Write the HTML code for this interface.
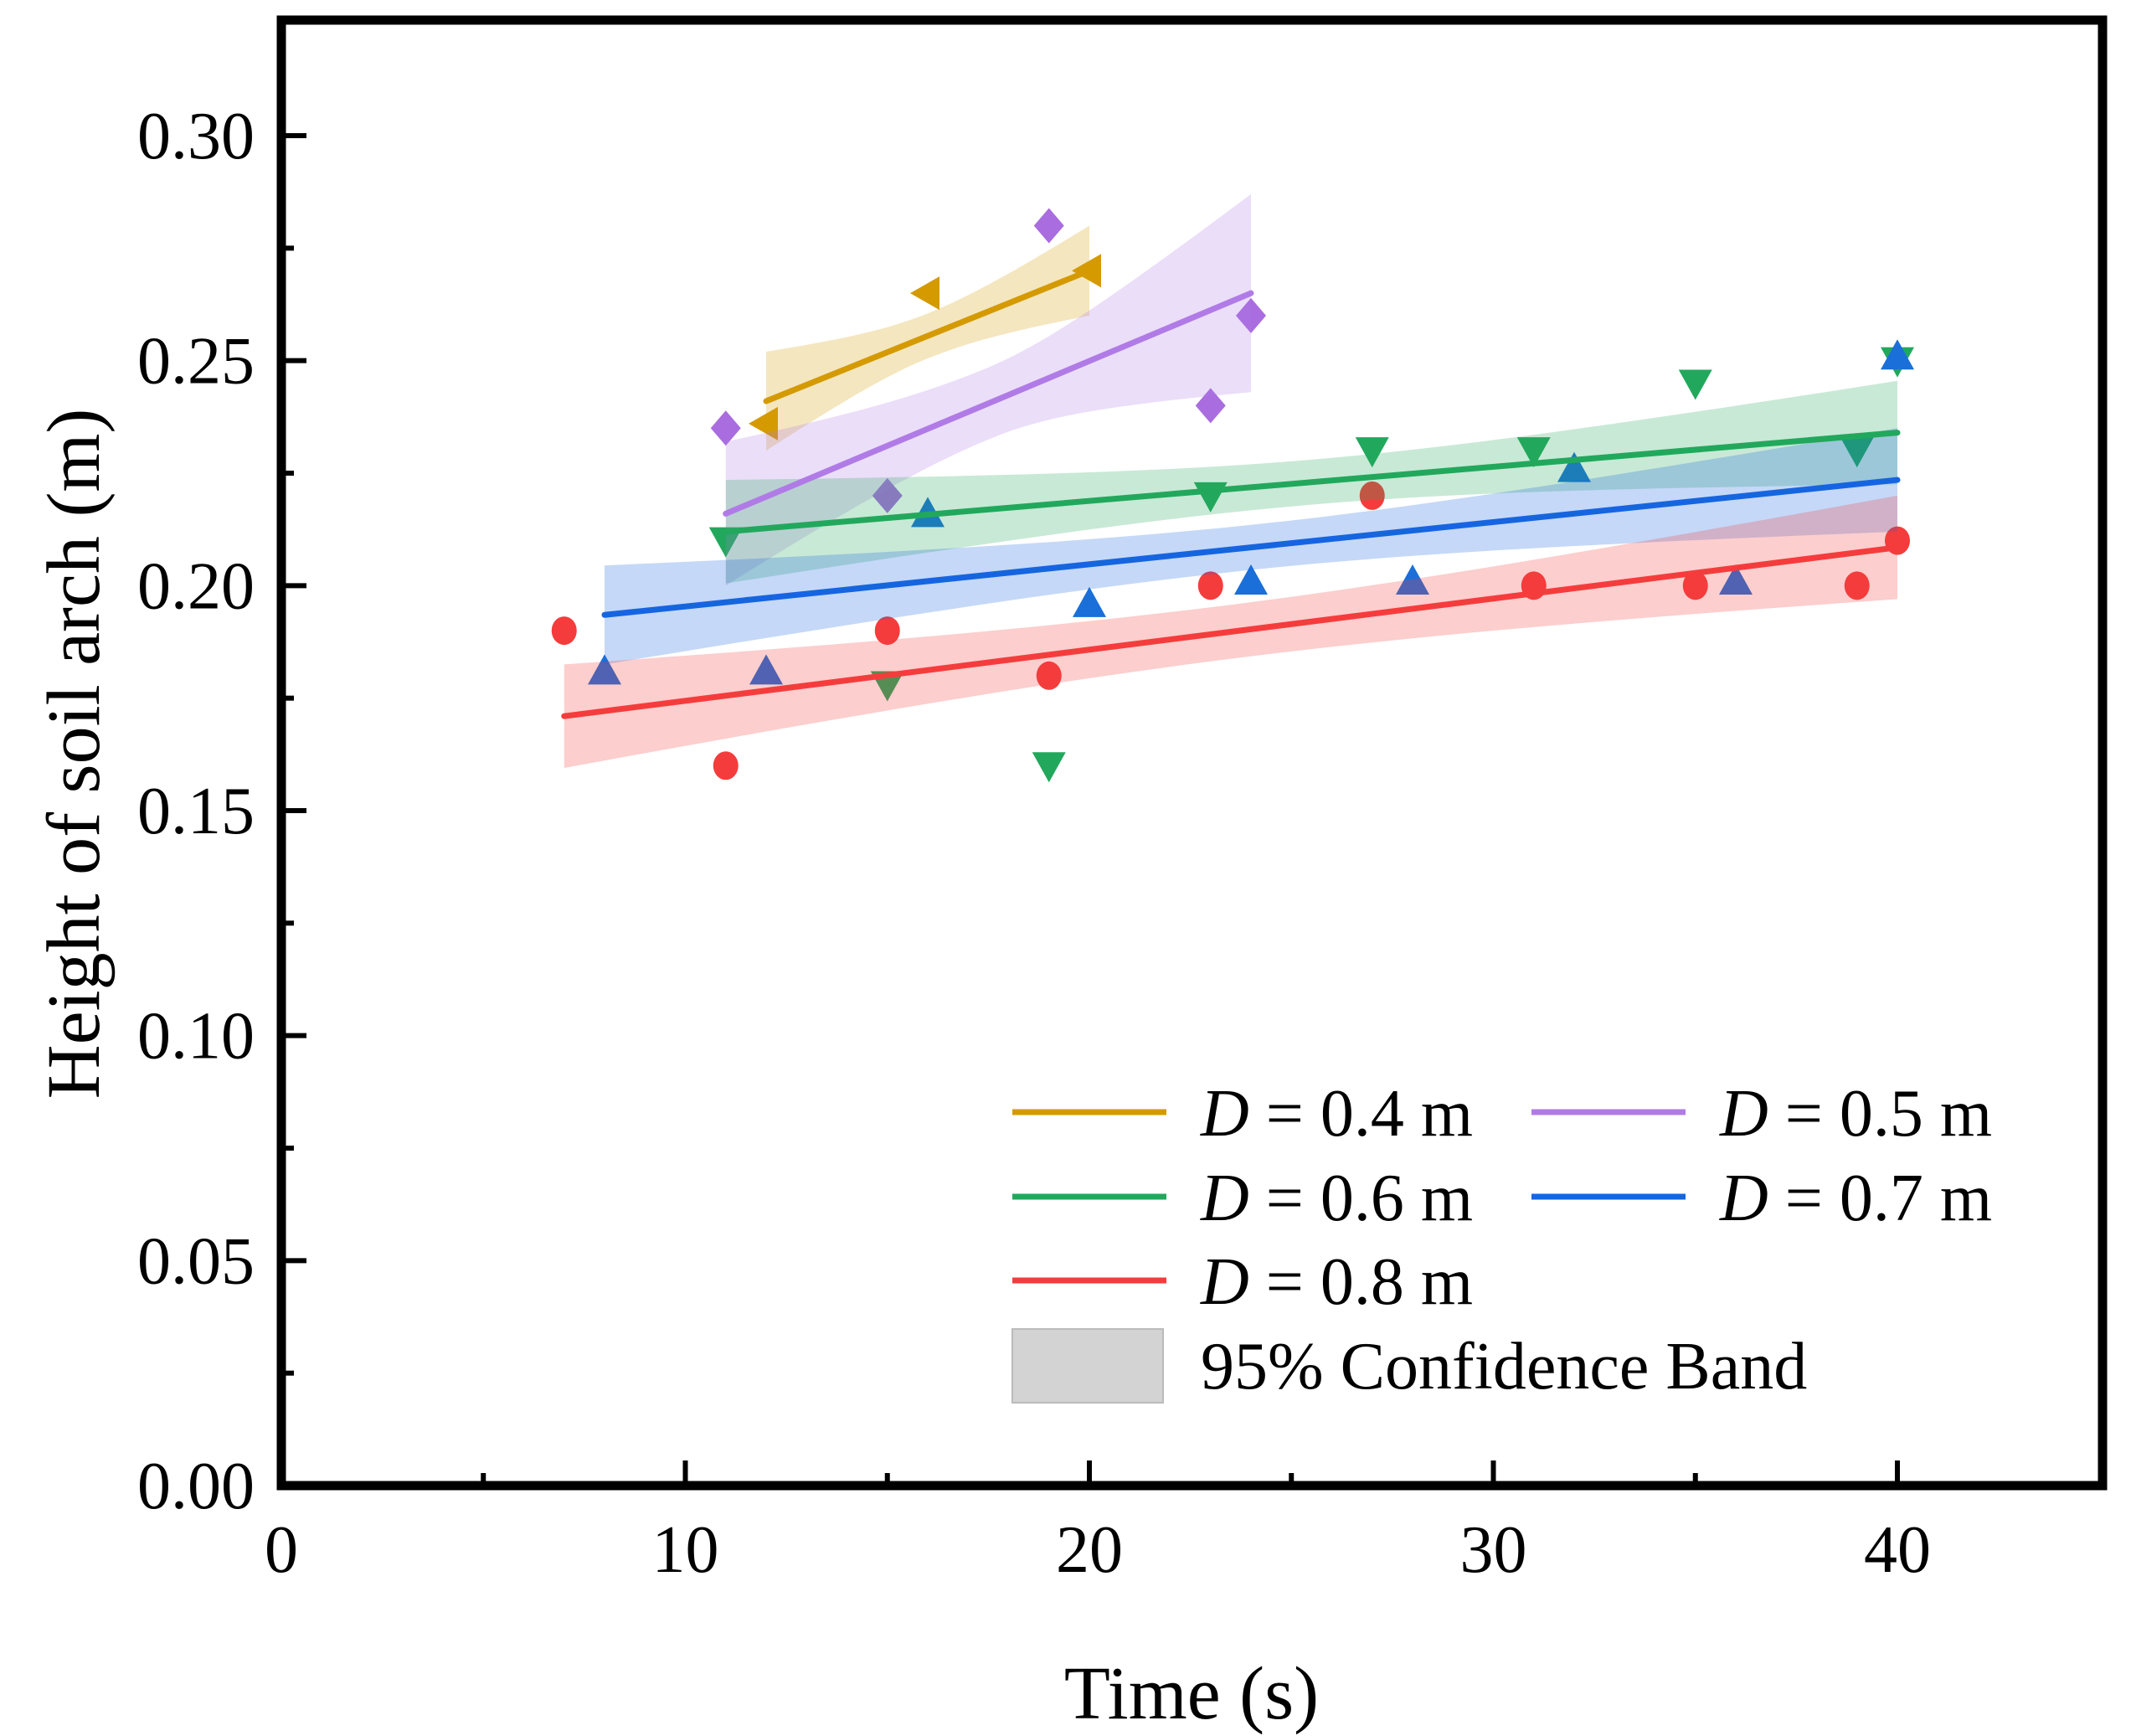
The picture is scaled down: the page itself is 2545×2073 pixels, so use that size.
<!DOCTYPE html>
<html><head><meta charset="utf-8"><style>
html,body{margin:0;padding:0;background:#fff;}
svg{display:block;font-family:"Liberation Serif","Times New Roman",serif;}
</style></head><body>
<svg id="chart" width="2545" height="2073" viewBox="0 0 2545 2073" xmlns="http://www.w3.org/2000/svg">
<rect x="0" y="0" width="2545" height="2073" fill="#fff"/>
<g id="marks"></g>
<g id="axes"></g>
<g id="legend"></g>
</svg>
<script>
const seriesNames = ["D = 0.4 m","D = 0.5 m","D = 0.6 m","D = 0.7 m","D = 0.8 m"];
const x04 = [12,16,20];
const y04 = [0.236,0.265,0.270];
const x05 = [11,15,19,23,24];
const y05 = [0.235,0.220,0.280,0.240,0.260];
const x06 = [11,15,19,23,27,31,35,39,40];
const y06 = [0.210,0.178,0.160,0.220,0.230,0.230,0.245,0.230,0.250];
const x07 = [8,12,16,20,24,28,32,36,40];
const y07 = [0.181,0.181,0.216,0.196,0.201,0.201,0.226,0.201,0.251];
const x08 = [7,11,15,19,23,27,31,35,39,40];
const y08 = [0.190,0.160,0.190,0.180,0.200,0.220,0.200,0.200,0.200,0.210];
// fitted line values at first/last x
const fitStart = [0.241,0.216,0.212,0.1935,0.171];
const fitEnd = [0.270,0.265,0.234,0.2235,0.2085];
// 95% confidence half-widths at ends and at middle
const bandHalfStart = [0.011,0.016,0.0115,0.011,0.0115];
const bandHalfEnd = [0.010,0.022,0.0115,0.0115,0.0115];
const bandHalfMid = [0.005,0.008,0.005,0.005,0.006];
const xTicks = [0,10,20,30,40];
const yTicks = [0,0.05,0.10,0.15,0.20,0.25,0.30];
const yTickLabels = ["0.00","0.05","0.10","0.15","0.20","0.25","0.30"];

const NS="http://www.w3.org/2000/svg";
const L=336,R=2511,T=24,B=1774;
const X0=336,X40=2266,Y0=1774,Y30=162;
function sx(v){return X0+(X40-X0)*v/40;}
function sy(v){return Y0+(Y30-Y0)*v/0.30;}
function mk(tag,attrs,parent){const e=document.createElementNS(NS,tag);for(const k in attrs)e.setAttribute(k,attrs[k]);parent.appendChild(e);return e;}
const colors=["#d49a00","#b07be6","#22a85c","#1665e0","#f53c3c"];
const markerColors=["#d49a00","#a96ddf","#22a85c","#1a6fd8","#f53c3c"];
const shapes=["left","diamond","down","up","circle"];
const xs=[x04,x05,x06,x07,x08], ys=[y04,y05,y06,y07,y08];
const marks=document.getElementById('marks');

function marker(shape,cx,cy,col,parent){
  const r=18;let e;
  if(shape==="circle"){e=mk('ellipse',{cx:cx,cy:cy,rx:15,ry:17,fill:col},parent);}
  else{let p;
    if(shape==="diamond")p=[[cx,cy-r-3],[cx+r,cy],[cx,cy+r+3],[cx-r,cy]];
    if(shape==="up")p=[[cx,cy-r-2],[cx+r+2,cy+r-2],[cx-r-2,cy+r-2]];
    if(shape==="down")p=[[cx,cy+r+2],[cx+r+2,cy-r+2],[cx-r-2,cy-r+2]];
    if(shape==="left")p=[[cx-r-3,cy],[cx+r-4,cy-r-2],[cx+r-4,cy+r+2]];
    e=mk('polygon',{points:p.map(q=>q.join(',')).join(' '),fill:col},parent);}
  return e;
}
for(let s=0;s<5;s++){
  const g=mk('g',{},marks);
  
  
  for(let i=0;i<xs[s].length;i++){
    const m=marker(shapes[s],sx(xs[s][i]),sy(ys[s][i]),markerColors[s],g);
    
    
  }
}
const bandG=mk('g',{},marks);


const lineG=mk('g',{},marks);


for(let s=0;s<5;s++){
  const x1=Math.min(...xs[s]),x2=Math.max(...xs[s]);const xm=(x1+x2)/2,hw=(x2-x1)/2;
  const f=v=>fitStart[s]+(fitEnd[s]-fitStart[s])*(v-x1)/(x2-x1);
  const hm=bandHalfMid[s];
  const h=v=>{const he=v<xm?bandHalfStart[s]:bandHalfEnd[s];const k=(he*he-hm*hm)/(hw*hw);return Math.sqrt(hm*hm+k*(v-xm)*(v-xm));};
  const up=[],lo=[];
  for(let k=0;k<=40;k++){const v=x1+(x2-x1)*k/40;up.push([sx(v),sy(f(v)+h(v))]);lo.push([sx(v),sy(f(v)-h(v))]);}
  const pts=up.concat(lo.reverse()).map(p=>p[0].toFixed(1)+','+p[1].toFixed(1)).join(' ');
  const band=mk('polygon',{points:pts,fill:colors[s],'fill-opacity':0.25},bandG);
  
  
  const ln=mk('line',{x1:sx(x1),y1:sy(f(x1)),x2:sx(x2),y2:sy(f(x2)),stroke:colors[s],'stroke-width':7,'stroke-linecap':'round'},lineG);
  
  
}
const ax=document.getElementById('axes');
mk('rect',{x:L,y:T,width:R-L,height:B-T,fill:'none',stroke:'#000','stroke-width':11},ax);
for(let i=1;i<=8;i++){const v=i*5;const x=sx(v);const major=(v%10===0);
  mk('line',{x1:x,y1:B,x2:x,y2:B-(major?30:15),stroke:'#000','stroke-width':6},ax);}
xTicks.forEach(v=>{const t=mk('text',{x:sx(v),y:1877,'font-size':80,'text-anchor':'middle',fill:'#000'},ax);t.textContent=v;
  
  });
for(let i=1;i<=12;i++){const v=i*0.025;const y=sy(v);const major=(i%2===0);
  mk('line',{x1:L,y1:y,x2:L+(major?30:15),y2:y,stroke:'#000','stroke-width':6},ax);}
yTicks.forEach((v,i)=>{const t=mk('text',{x:304,y:sy(v)+27,'font-size':80,'text-anchor':'end',fill:'#000'},ax);t.textContent=yTickLabels[i];
  
  });
const xt=mk('text',{x:1423,y:2052,'font-size':90,'text-anchor':'middle',fill:'#000'},ax);xt.textContent="Time (s)";


const yt=mk('text',{x:0,y:0,'font-size':90,'text-anchor':'middle',fill:'#000',transform:'translate(118,900) rotate(-90)'},ax);yt.textContent="Height of soil arch (m)";


const lg=document.getElementById('legend');
const pos=[[1209,1328],[1829,1328],[1209,1429],[1829,1429],[1209,1529]];
for(let s=0;s<5;s++){const [x,y]=pos[s];
  const g=mk('g',{},lg);
  
  
  mk('line',{x1:x,y1:y,x2:x+184,y2:y,stroke:colors[s],'stroke-width':7},g);
  const t=mk('text',{x:x+225,y:y+28,'font-size':80,fill:'#000'},g);
  const it=mk('tspan',{'font-style':'italic'},t);it.textContent="D";
  const r=mk('tspan',{},t);r.textContent=seriesNames[s].slice(1);
}
const gb=mk('g',{},lg);


mk('rect',{x:1209,y:1587,width:180,height:88,fill:'#d3d3d3',stroke:'#bbb','stroke-width':2},gb);
const bt=mk('text',{x:1434,y:1658,'font-size':80,fill:'#000'},gb);bt.textContent="95% Confidence Band";
</script>
</body></html>
